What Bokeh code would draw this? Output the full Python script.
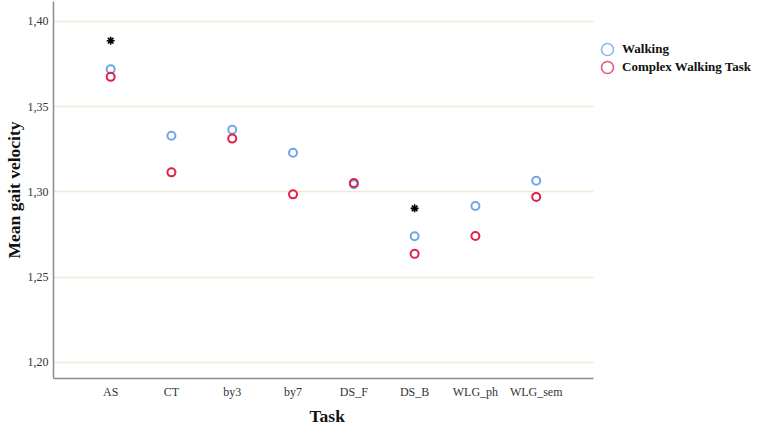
import math
from bokeh.plotting import figure
from bokeh.models import (ColumnDataSource, Range1d, FixedTicker, CustomJSTickFormatter,
                          Legend, LegendItem, Title)
from bokeh.embed import file_html
from bokeh.resources import INLINE

tasks = ["AS", "CT", "by3", "by7", "DS_F", "DS_B", "WLG_ph", "WLG_sem"]
walking = [1.372, 1.333, 1.3365, 1.323, 1.3045, 1.274, 1.2918, 1.3066]
complex_task = [1.3675, 1.3115, 1.3313, 1.2986, 1.3053, 1.2637, 1.2742, 1.2971]
star_tasks = ["AS", "DS_B"]
star_vals = [1.3887, 1.2904]
y_ticks = [1.20, 1.25, 1.30, 1.35, 1.40]

BLUE = "#6ea6e8"
RED = "#df2150"
SERIF = "Liberation Serif"

X0, X1 = -0.94, 7.95          # visible extent of the data area
xi = list(range(len(tasks)))
src_w = ColumnDataSource(dict(x=xi, y=walking))
src_c = ColumnDataSource(dict(x=xi, y=complex_task))
src_s = ColumnDataSource(dict(x=[tasks.index(t) for t in star_tasks], y=star_vals))

p = figure(width=757, height=430, output_backend="svg", toolbar_location=None,
           x_range=Range1d(X0, 10.64), y_range=Range1d(1.1906, 1.4117),
           min_border_left=46, min_border_right=0, min_border_top=1, min_border_bottom=52)

p.outline_line_color = None
p.xgrid.grid_line_color = None
p.ygrid.grid_line_color = "#efe9d6"
p.ygrid.grid_line_width = 1.5
p.ygrid.ticker = FixedTicker(ticks=y_ticks)
p.ygrid.cross_bounds = (X0, X1)

p.yaxis.ticker = FixedTicker(ticks=y_ticks)
p.yaxis.formatter = CustomJSTickFormatter(code="return tick.toFixed(2).replace('.', ',');")
p.xaxis.ticker = FixedTicker(ticks=xi)
p.xaxis.major_label_overrides = {i: t for i, t in enumerate(tasks)}
p.xaxis.bounds = (X0, X1)

for ax in (p.xaxis[0], p.yaxis[0]):
    ax.axis_line_color = "#8c8c8c"
    ax.axis_line_width = 1.5
    ax.major_tick_line_color = None
    ax.minor_tick_line_color = None
    ax.major_tick_out = 0
    ax.major_tick_in = 0
    ax.major_label_text_font = SERIF
    ax.major_label_text_font_size = "12px"
    ax.major_label_text_color = "#333333"
    ax.axis_label_text_font = SERIF
    ax.axis_label_text_font_style = "bold"
    ax.axis_label_text_color = "#111111"

p.yaxis.major_label_standoff = 5
p.xaxis.major_label_standoff = 6
p.yaxis.axis_label = "Mean gait velocity"
p.yaxis.axis_label_text_font_size = "17.5px"
p.yaxis.axis_label_standoff = 1

# x-axis title, centred under the data area (not the whole frame)
p.add_layout(Title(text="Task", align="left", offset=256, standoff=4,
                   text_font=SERIF, text_font_style="bold", text_font_size="17.5px",
                   text_color="#111111"), "below")

p.scatter("x", "y", source=src_w, marker="circle", size=8, fill_color=None,
          line_color=BLUE, line_width=2)
p.scatter("x", "y", source=src_c, marker="circle", size=8, fill_color=None,
          line_color=RED, line_width=2)
p.scatter("x", "y", source=src_s, marker="asterisk", size=8, line_color="black", line_width=1.6)

# legend-only glyphs (larger, thinner circles as in the reference legend)
lw = p.scatter([math.nan], [math.nan], marker="circle", size=13, fill_color=None,
               line_color="#8ab6ee", line_width=1.6)
lc = p.scatter([math.nan], [math.nan], marker="circle", size=13, fill_color=None,
               line_color="#e35b7c", line_width=1.6)

common = dict(orientation="vertical", padding=0, margin=0, spacing=0,
              glyph_width=30, glyph_height=30, label_standoff=0,
              border_line_color=None, background_fill_alpha=0,
              label_text_font=SERIF, label_text_font_style="bold",
              label_text_font_size="13px", label_text_color="#111111")
leg_w = Legend(items=[LegendItem(label="Walking", renderers=[lw])],
               location=(539, 314), **common)
leg_c = Legend(items=[LegendItem(label="Complex Walking Task", renderers=[lc])],
               location=(539, 296), **common)
p.add_layout(leg_w, "center")
p.add_layout(leg_c, "center")

open("out.html", "w").write(file_html(p, INLINE))
